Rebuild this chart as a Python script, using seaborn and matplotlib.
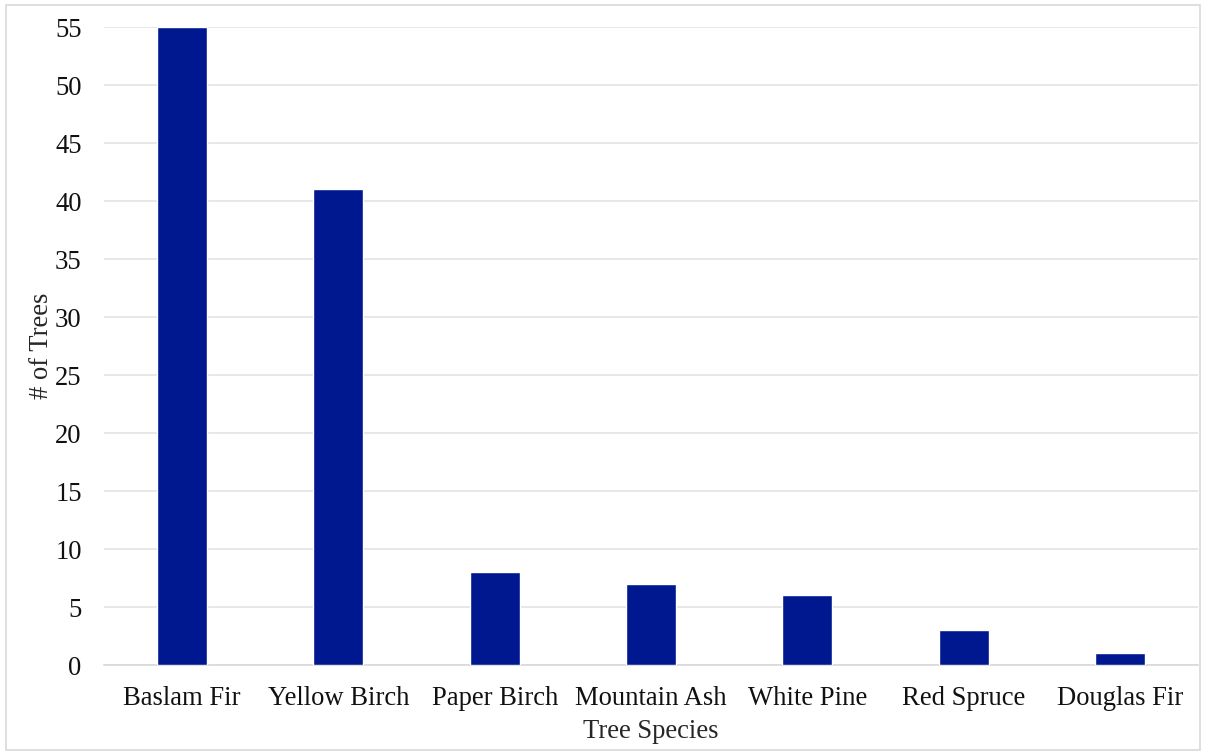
import matplotlib
matplotlib.use("Agg")
import matplotlib.pyplot as plt
import seaborn as sns
import pandas as pd
from matplotlib.patches import Rectangle

# data
species = ["Baslam Fir", "Yellow Birch", "Paper Birch", "Mountain Ash",
           "White Pine", "Red Spruce", "Douglas Fir"]
counts = [55, 41, 8, 7, 6, 3, 1]
yticks = [0, 5, 10, 15, 20, 25, 30, 35, 40, 45, 50, 55]

df = pd.DataFrame({"Tree Species": species, "# of Trees": counts})

sns.set_style("white")
plt.rcParams["font.family"] = ["Liberation Serif", "DejaVu Serif"]

fig = plt.figure(figsize=(12.06, 7.55), dpi=100)
ax = fig.add_axes([0.0862, 0.1192, 0.9072, 0.845])

sns.barplot(data=df, x="Tree Species", y="# of Trees", color="#00188F",
            width=0.32, saturation=1, ax=ax, zorder=3)

ax.set_ylim(0, 55)
ax.set_yticks(yticks)
ax.set_xlim(-0.5, len(species) - 0.5)
ax.yaxis.grid(True, color="#e3e3e3", linewidth=1.2, zorder=0)
ax.set_axisbelow(True)
for s in ["top", "right", "left"]:
    ax.spines[s].set_visible(False)
ax.spines["bottom"].set_color("#d9d9d9")
ax.spines["bottom"].set_linewidth(1.2)
ax.tick_params(axis="both", length=0, labelsize=19.2, colors="#111111")
ax.tick_params(axis="x", pad=15)
ax.tick_params(axis="y", pad=16)
ax.set_xlabel("Tree Species", fontsize=19.2, labelpad=6)
ax.set_ylabel("# of Trees", fontsize=19.2, labelpad=1)

# thin grey frame around the whole picture
fig.patches.append(Rectangle((6 / 1206, 5 / 755), 1194 / 1206, 745 / 755,
                             transform=fig.transFigure, fill=False,
                             edgecolor="#d9d9d9", linewidth=1.2))

fig.savefig("out.png", dpi=100)
